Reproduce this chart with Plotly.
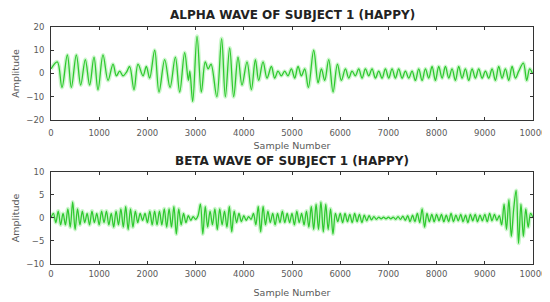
import plotly.graph_objects as go

# ---------------- data ----------------
alpha_samples = [0, 131, 228, 339, 422, 526, 616, 712, 802, 892, 975, 1079, 1183, 1287, 1356, 1425,
                 1494, 1563, 1632, 1722, 1805, 1909, 1978, 2047, 2151, 2241, 2359, 2470, 2580, 2670,
                 2773, 2850, 2880, 2940, 3030, 3119, 3200, 3260, 3320, 3440, 3540, 3617, 3707, 3790,
                 3880, 3963, 4067, 4157, 4240, 4309, 4399, 4482, 4572, 4641, 4710, 4779, 4848, 4917,
                 4987, 5056, 5125, 5195, 5264, 5340, 5450, 5541, 5610, 5679, 5762, 5852, 5942, 6025,
                 6108, 6177, 6246, 6315, 6384, 6454, 6523, 6592, 6661, 6730, 6799, 6869, 6938, 7007,
                 7076, 7145, 7214, 7284, 7353, 7422, 7491, 7560, 7629, 7699, 7768, 7837, 7906, 7975,
                 8044, 8114, 8183, 8252, 8321, 8390, 8459, 8529, 8598, 8667, 8736, 8805, 8874, 8944,
                 9013, 9082, 9151, 9220, 9289, 9359, 9428, 9497, 9566, 9635, 9704, 9800, 9870, 9930,
                 9990]
alpha_values = [2, 5, -6, 8, -6, 8, -5, 6, -5, 7, -7, 8, -3, 4, -1, 1,
                -1, 0.5, 3, -7, 4, -1, 3, -2, 10, -8, 6, -6, 7, -8,
                9, -3, 1, -12, 16, -8, 5, 2, 4, -10, 15, -10, 11, -10,
                7, -5, 5, -7, 6, -3, 5, -2, 3, -2, 1, -1, 1, -1,
                2, -2, 3, -1, 2, -6, 10, -4, 2, -3, 6, -8, 4, -3,
                2, -2, 1, -1, 2, -2, 2, -1, 2, -2, 1, -2, 2, -2,
                2, -2, 2, -2, 1, -2, 1, -3, 2, -3, 2, -2, 3, -3,
                3, -2, 3, -2, 2, -3, 3, -2, 2, -3, 2, -2, 2, -2,
                1, -2, 2, -3, 3, -2, 2, -3, 3, -2, 1, 4.5, -3, 2,
                0]

beta_step_samples = list(range(0, 10001, 50))
beta_values = [
    0, 1, -1, 1.5, -1.5, 1, -1.5, 2, -2, 3.5, -2.5, 2, -1.5, 1.5, -1, 1, -1.5, 1.5, -1, 1,
    -1.5, 1.5, -1, 1.5, -1.5, 1, -2, 1.5, -1.5, 2, -2, 2.5, -2.5, 2, -2, 1.5, -1, 1, -0.5, 1,
    -1, 1.5, -1.5, 1.5, -1.5, 1.5, -1.5, 2, -2, 2, -2, 2.5, -3.5, 2, -1.5, 1, -1, 0.5, -0.5, 0.3,
    -0.3, 0.5, 3, -3.5, 2.5, -2, 1.5, -1.5, 2, -2.5, 2, -1.5, 1.5, -2, 2.5, -3, 1.5, -1, 1, -0.8,
    0.5, -0.5, 0.3, -0.3, 1, -1.5, 2.5, -3, 2.5, -1.5, 1.5, -1, 1, -1.5, 1, -1, 1.5, -1, 1, -1,
    1, -1.5, 1.5, -1, 1, -1.5, 1.5, -2, 2.5, -2.5, 3, -2.5, 3.5, -3, 3, -2.5, 2, -3.5, 1, -0.8,
    1, -1, 1, -0.8, 0.8, -1, 1, -0.8, 0.8, -1, 0.6, -0.6, 0.5, -0.4, 0.3, -0.3, 0.2, -0.2, 0.2, -0.2,
    0.2, -0.2, 0.2, -0.3, 0.3, -0.3, 0.4, -0.5, 0.5, -0.8, 0.6, -0.8, 1, -1, 2, -2, 1, -0.8, 0.8, -0.8,
    0.8, -0.6, 0.8, -0.8, 0.6, -0.8, 1, -0.8, 0.6, -0.6, 0.8, -0.8, 0.6, -1, 0.8, -0.6, 0.8, -0.8, 0.6, -0.6,
    0.8, -0.8, 1, -0.6, 0.8, -0.5, 0.5, -1.5, 3, -2.5, 4, -4, 2, 6, -5.5, 3, -4, 2, -2, 1,
    0]

x_ticks = [0, 1000, 2000, 3000, 4000, 5000, 6000, 7000, 8000, 9000, 10000]
alpha_yticks = [-20, -10, 0, 10, 20]
beta_yticks = [-10, -5, 0, 5, 10]
titles = ["ALPHA WAVE OF SUBJECT 1 (HAPPY)", "BETA WAVE OF SUBJECT 1 (HAPPY)"]
x_title = "Sample Number"
y_title = "Amplitude"

# ---------------- figure ----------------
LINE = "#2fc92f"
GLOW = "rgba(110,230,110,0.35)"
FONT = "DejaVu Sans"
TXT = "#5a5a5a"

fig = go.Figure()
for xs, ys, xa, ya in [(alpha_samples, alpha_values, "x", "y"),
                       (beta_step_samples, beta_values, "x2", "y2")]:
    fig.add_trace(go.Scatter(x=xs, y=ys, mode="lines", xaxis=xa, yaxis=ya,
                             line=dict(color=GLOW, width=4, shape="spline", smoothing=1.0),
                             hoverinfo="skip", showlegend=False))
    fig.add_trace(go.Scatter(x=xs, y=ys, mode="lines", xaxis=xa, yaxis=ya,
                             line=dict(color=LINE, width=1.3, shape="spline", smoothing=1.0),
                             showlegend=False))

axis_common = dict(showline=True, mirror="ticks", linecolor="#333", linewidth=1,
                   ticks="inside", ticklen=3, tickcolor="#333", showgrid=False, zeroline=False,
                   automargin=False, ticklabeloverflow="allow", tickformat="d",
                   tickfont=dict(family=FONT, size=8.5, color=TXT))

def xt(standoff):
    return dict(text=x_title, font=dict(family=FONT, size=9.5, color=TXT), standoff=standoff)

yt = dict(text=y_title, font=dict(family=FONT, size=9.5, color=TXT), standoff=5)

# page body has an 8px default margin, so the figure is 8px smaller and margins shifted
fig.update_layout(
    template="none",
    width=542, height=294,
    margin=dict(l=43, r=17, t=19, b=38),
    paper_bgcolor="white", plot_bgcolor="white",
    font=dict(family=FONT),
    xaxis=dict(domain=[0, 1], anchor="y", range=[0, 10000], tickvals=x_ticks,
               ticklabelstandoff=5, title=xt(5), **axis_common),
    yaxis=dict(domain=[0.6076, 1], anchor="x", range=[-20, 20], tickvals=alpha_yticks,
               ticklabelstandoff=4, title=yt, **axis_common),
    xaxis2=dict(domain=[0, 1], anchor="y2", range=[0, 10000], tickvals=x_ticks,
                ticklabelstandoff=2, title=xt(11), **axis_common),
    yaxis2=dict(domain=[0, 0.3882], anchor="x2", range=[-10, 10], tickvals=beta_yticks,
                ticklabelstandoff=4, title=yt, **axis_common),
    annotations=[
        dict(text="<b>" + titles[0] + "</b>", x=0.5, xref="paper", y=1.0, yref="paper",
             yanchor="bottom", yshift=3, showarrow=False, font=dict(family=FONT, size=12, color="#222")),
        dict(text="<b>" + titles[1] + "</b>", x=0.5, xref="paper", y=0.3882, yref="paper",
             yanchor="bottom", yshift=2, showarrow=False, font=dict(family=FONT, size=12, color="#222")),
    ],
)

fig.write_html("out.html")
